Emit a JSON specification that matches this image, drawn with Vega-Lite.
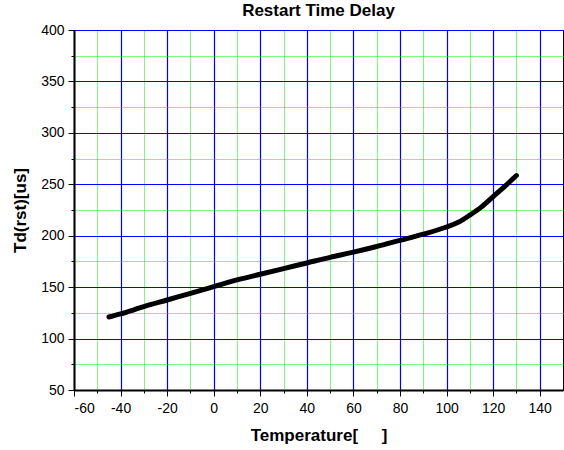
{
  "$schema": "https://vega.github.io/schema/vega-lite/v6.json",
  "width": 489,
  "height": 360,
  "autosize": {"type": "none"},
  "padding": {"left": 74, "top": 30, "right": 1, "bottom": 60},
  "background": "white",
  "config": {
    "font": "Liberation Sans",
    "view": {"stroke": "black", "strokeWidth": 1},
    "axis": {"labelFont": "Liberation Sans", "titleFont": "Liberation Sans", "labelColor": "#000", "titleColor": "#000", "labelFontSize": 14, "titleFontSize": 17, "titleFontWeight": "bold"}
  },
  "title": {"text": "Restart Time Delay", "fontSize": 17, "fontWeight": "bold", "font": "Liberation Sans", "color": "#000", "offset": 3},
  "data": {"values": [
    {"t": -45, "td": 121},
    {"t": -40, "td": 124},
    {"t": -30, "td": 131},
    {"t": -20, "td": 137.5},
    {"t": -10, "td": 144},
    {"t": 0, "td": 150.5},
    {"t": 10, "td": 157},
    {"t": 20, "td": 162.5},
    {"t": 30, "td": 168},
    {"t": 40, "td": 173.5},
    {"t": 50, "td": 179},
    {"t": 60, "td": 184},
    {"t": 70, "td": 189.5},
    {"t": 80, "td": 195.5},
    {"t": 90, "td": 201.5},
    {"t": 100, "td": 208.5},
    {"t": 105, "td": 213},
    {"t": 110, "td": 220},
    {"t": 115, "td": 228},
    {"t": 120, "td": 238},
    {"t": 125, "td": 248},
    {"t": 130, "td": 258.5}
  ]},
  "resolve": {"axis": {"x": "independent", "y": "independent"}},
  "layer": [
    {
      "mark": {"type": "line", "strokeOpacity": 0},
      "encoding": {
        "x": {"field": "t", "type": "quantitative", "scale": {"domain": [-60, 150], "nice": false, "zero": false},
          "axis": {"orient": "bottom", "values": [-50, -30, -10, 10, 30, 50, 70, 90, 110, 130], "labels": false, "domain": false, "title": null, "ticks": true, "tickSize": 3, "tickColor": "#000", "grid": true, "gridColor": "#00ee00", "gridDash": [1, 1], "gridWidth": 1}},
        "y": {"field": "td", "type": "quantitative", "scale": {"domain": [50, 400], "nice": false, "zero": false},
          "axis": {"orient": "left", "values": [75, 125, 175, 225, 275, 325, 375], "labels": false, "domain": false, "title": null, "ticks": true, "tickSize": 3, "tickColor": "#000", "grid": true, "gridColor": "#00ee00", "gridDash": [1, 1], "gridWidth": 1}}
      }
    },
    {
      "mark": {"type": "line", "color": "#000", "strokeWidth": 5, "interpolate": "monotone", "strokeCap": "round"},
      "encoding": {
        "x": {"field": "t", "type": "quantitative", "scale": {"domain": [-60, 150], "nice": false, "zero": false},
          "axis": {"orient": "bottom", "values": [-60, -40, -20, 0, 20, 40, 60, 80, 100, 120, 140], "labelExpr": "datum.value + ''", "title": "Temperature[\u00a0\u00a0\u00a0\u00a0\u00a0]", "titlePadding": 12, "labelPadding": 5, "tickSize": 6, "tickColor": "#000", "domainColor": "#000", "domainWidth": 2, "grid": true, "gridColor": "blue", "gridOpacity": 1, "gridWidth": 1.2}},
        "y": {"field": "td", "type": "quantitative", "scale": {"domain": [50, 400], "nice": false, "zero": false},
          "axis": {"orient": "left", "values": [50, 100, 150, 200, 250, 300, 350, 400], "labelExpr": "datum.value + ''", "title": "Td(rst)[us]", "titlePadding": 11, "labelPadding": 4, "tickSize": 6, "tickColor": "#000", "domainColor": "#000", "domainWidth": 2, "grid": true, "gridColor": "blue", "gridOpacity": 1, "gridWidth": 1.2}}
      }
    }
  ]
}
